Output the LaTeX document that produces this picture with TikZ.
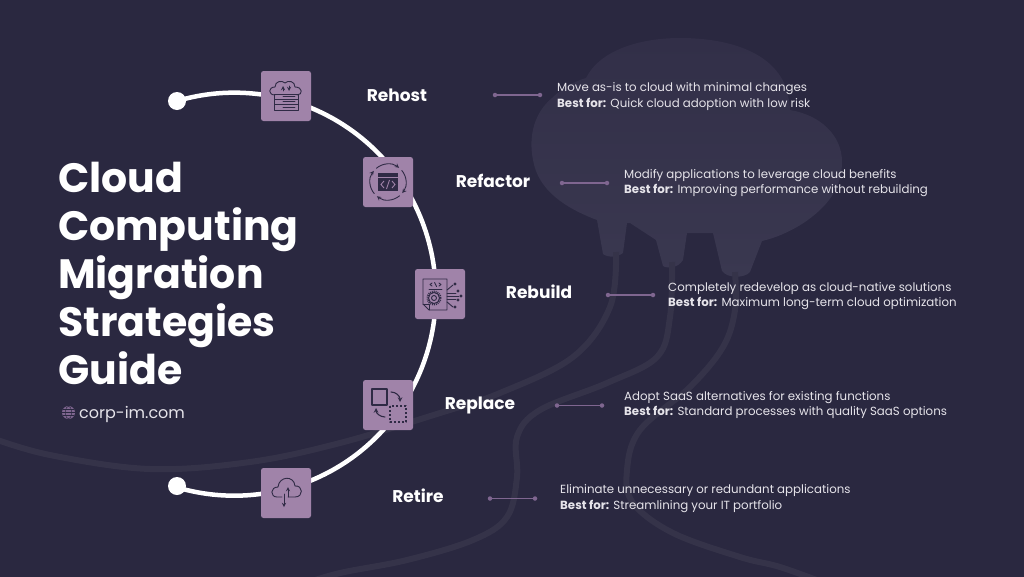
\documentclass[tikz,border=0pt]{standalone}
\usepackage{fontspec}
\setmainfont{Poppins}
\definecolor{bgdark}{HTML}{2A2840}
\definecolor{cloudtop}{HTML}{322F48}
\definecolor{cloudbg}{HTML}{3A3850}
\definecolor{wirecol}{HTML}{353349}
\definecolor{boxfill}{HTML}{A083A9}
\definecolor{iconink}{HTML}{2F2A45}
\definecolor{leadcol}{HTML}{7F6690}
\definecolor{desctext}{HTML}{E6E4EA}
\tikzset{
    iconbox/.style={fill=boxfill, rounded corners=2.5pt, minimum size=50pt, inner sep=0pt},
    iconline/.style={draw=iconink, line width=.9pt, line cap=round, line join=round},
    wire/.style={draw=wirecol, line width=6pt},
    tick/.style={circle, fill=leadcol, minimum size=4.5pt, inner sep=0pt},
    leader/.style={draw=leadcol, line width=1.4pt},
    stepname/.style={text=white, anchor=base, font=\fontsize{17}{19}\selectfont\bfseries},
    stepdesc/.style={text=desctext, anchor=west, align=left, inner sep=0pt, font=\fontsize{11.8}{15.2}\selectfont},
    titleline/.style={text=white, anchor=base west, inner sep=0pt, font=\fontsize{41}{43}\selectfont\bfseries},
}
\begin{document}
\begin{tikzpicture}[x=1pt, y=-1pt, >=stealth]
    \useasboundingbox (0,0) rectangle (1024,576);
    \fill[bgdark] (-3,-3) rectangle (1027,579);
    % cloud in the background
    \begin{scope}
        \clip (-3,-3) rectangle (1027,579);
        \shade[top color=cloudtop, bottom color=cloudbg] (597,220) .. controls (565,208) and (538,190) .. (533,160)
            .. controls (528,135) and (535,112) .. (552,98)
            .. controls (560,90) and (572,82) .. (586,78)
            .. controls (600,50) and (640,38) .. (680,38)
            .. controls (725,38) and (770,50) .. (785,85)
            .. controls (788,95) and (790,103) .. (790,110)
            .. controls (820,115) and (842,135) .. (842,162)
            .. controls (842,190) and (825,208) .. (805,222)
            .. controls (790,232) and (775,238) .. (762,241)
            -- (750,272) .. controls (745,278) and (728,279) .. (722,271)
            -- (713,233) -- (687,233) -- (683,260)
            .. controls (678,268) and (668,269) .. (663,266)
            -- (656,240) -- (630,223) -- (627,223) -- (623,253)
            .. controls (618,257) and (608,258) .. (603,254) -- cycle;
        \draw[wire] plot[smooth, tension=.6] coordinates {(616,252) (610,307) (573,357) (500,393) (440,413) (340,443) (250,462) (150,469) (50,455) (-8,438)};
        \draw[wire] plot[smooth, tension=.6] coordinates {(672,262) (670,317) (657,357) (607,383) (540,410) (517,437) (517,477) (507,517) (473,540) (407,560) (340,573) (300,585)};
        \draw[wire] plot[smooth, tension=.6] coordinates {(735,272) (735,310) (723,347) (690,387) (640,430) (627,470) (633,503) (673,533) (740,557) (780,567) (830,585)};
    \end{scope}
    % the main arc
    \node[circle, fill=white, minimum size=18pt, inner sep=0pt] (dotA) at (177,101) {};
    \node[circle, fill=white, minimum size=18pt, inner sep=0pt] (dotB) at (177,486) {};
    \draw[white, line width=4.5pt] (dotA.center) arc[start angle=106.5, end angle=-106.5, radius=201.5pt];
    % icon boxes
    \node[iconbox] (rh) at (286,96) {};
    \node[iconbox] (rf) at (388,182) {};
    \node[iconbox] (rb) at (440,294) {};
    \node[iconbox] (rp) at (388,405) {};
    \node[iconbox] (rt) at (286,493) {};
    % rehost icon
    \begin{scope}[shift={(rh.center)}]
        \draw[iconline] (-11,-1) .. controls (-18,-1) and (-18,-9) .. (-11,-9)
            .. controls (-11,-15) and (-4,-16) .. (-1,-13)
            .. controls (2,-16) and (9,-15) .. (9,-9)
            .. controls (17,-9) and (17,-1) .. (11,-1);
        \draw[iconline] (-12,-2) rectangle (12,3);
        \draw[iconline] (-12,3) rectangle (12,8.5);
        \draw[iconline] (-12,8.5) rectangle (12,14);
        \draw[iconline] (-3,.5) -- (9,.5);
        \draw[iconline] (-3,5.7) -- (9,5.7);
        \draw[iconline] (-3,11.2) -- (9,11.2);
        \draw[iconline, ->] (-3,-5) -- (-3,-10);
        \draw[iconline, ->] (3,-10) -- (3,-5);
    \end{scope}
    % refactor icon
    \begin{scope}[shift={(rf.center)}]
        \foreach \a in {0,90,180,270}
            \draw[iconline, ->] ({\a+130}:18pt) arc[start angle=\a+130, end angle=\a+52, radius=18pt];
        \fill[iconink] (-10,-9) rectangle (10,9);
        \draw[boxfill, line width=.7pt] (-10,-5) -- (10,-5);
        \draw[boxfill, line width=.9pt] (-4,-1) -- (-7,2.5) -- (-4,6);
        \draw[boxfill, line width=.9pt] (4,-1) -- (7,2.5) -- (4,6);
        \draw[boxfill, line width=.9pt] (1.5,-2) -- (-1.5,7);
    \end{scope}
    % rebuild icon
    \begin{scope}[shift={(rb.center)}]
        \draw[iconline] (-17,-15) -- (7,-15) -- (7,16) -- (-11,16) -- (-17,10) -- cycle;
        \draw[iconline] (-17,10) -- (-11,10) -- (-11,16);
        \draw[iconline] (-11,-5) -- (2,-5);
        \draw[iconline] (-8,-11) -- (-10,-9.5) -- (-8,-8);
        \draw[iconline] (-1,-11) -- (1,-9.5) -- (-1,-8);
        \draw[iconline] (-3.5,-7.5) -- (-5.5,-11.5);
        \draw[iconline, densely dotted, line width=2pt, line cap=butt] (-6,4) circle[radius=6.5pt];
        \draw[iconline] (-6,4) circle[radius=5.5pt];
        \draw[iconline] (-6,4) circle[radius=2.5pt];
        \draw[iconline] (7,-4) -- (13,-9);
        \draw[iconline] (7,-1) -- (16,-1);
        \draw[iconline] (7,2) -- (19,2);
        \draw[iconline] (7,5) -- (16,5);
        \draw[iconline] (7,8) -- (13,13);
        \foreach \p in {(15,-10),(18,-3),(21,2),(18,6),(15,13)}
            \fill[iconink] \p circle[radius=1.7pt];
    \end{scope}
    % replace icon
    \begin{scope}[shift={(rp.center)}]
        \draw[iconline, line width=1.1pt] (-16,-16) rectangle (-1,0);
        \draw[iconline, line width=1.1pt, line cap=butt, dash pattern=on 2pt off 2pt] (2,1) rectangle (18,17);
        \draw[iconline, line width=1.1pt, ->] (3,-13) .. controls (8,-13) and (12,-9) .. (12,-3);
        \draw[iconline, line width=1.1pt, ->] (-3,12) .. controls (-8,12) and (-12,8) .. (-12,3);
    \end{scope}
    % retire icon
    \begin{scope}[shift={(rt.center)}]
        \draw[iconline] (-4,4) -- (-9,4) .. controls (-16,4) and (-16,-6) .. (-8,-6)
            .. controls (-7,-17) and (8,-18) .. (9,-7)
            .. controls (17,-8) and (18,4) .. (9,4) -- (2,4);
        \draw[iconline, ->] (2,4) -- (2,-6);
        \draw[iconline, ->] (-2,1) -- (-2,14);
    \end{scope}
    % step names
    \node[stepname] (rhName) at (397,101.5) {Rehost};
    \node[stepname] (rfName) at (493,187.5) {Refactor};
    \node[stepname] (rbName) at (539,298.5) {Rebuild};
    \node[stepname] (rpName) at (480,409.5) {Replace};
    \node[stepname] (rtName) at (418,502.5) {Retire};
    % leaders
    \node[tick] (rhA) at (495,95) {};
    \node[tick] (rhB) at (540,95) {};
    \node[tick] (rfA) at (562,183) {};
    \node[tick] (rfB) at (607,183) {};
    \node[tick] (rbA) at (608,295) {};
    \node[tick] (rbB) at (653,295) {};
    \node[tick] (rpA) at (557,405.5) {};
    \node[tick] (rpB) at (602,405.5) {};
    \node[tick] (rtA) at (490,498.5) {};
    \node[tick] (rtB) at (535,498.5) {};
    \draw[leader] (rhA) -- (rhB);
    \draw[leader] (rfA) -- (rfB);
    \draw[leader] (rbA) -- (rbB);
    \draw[leader] (rpA) -- (rpB);
    \draw[leader] (rtA) -- (rtB);
    % descriptions
    \node[stepdesc] (rhDesc) at (557,96.5) {Move as-is to cloud with minimal changes\\\textbf{Best for:} Quick cloud adoption with low risk};
    \node[stepdesc] (rfDesc) at (624,183) {Modify applications to leverage cloud benefits\\\textbf{Best for:} Improving performance without rebuilding};
    \node[stepdesc] (rbDesc) at (668,296) {Completely redevelop as cloud-native solutions\\\textbf{Best for:} Maximum long-term cloud optimization};
    \node[stepdesc] (rpDesc) at (624,405) {Adopt SaaS alternatives for existing functions\\\textbf{Best for:} Standard processes with quality SaaS options};
    \node[stepdesc] (rtDesc) at (560,498.5) {Eliminate unnecessary or redundant applications\\\textbf{Best for:} Streamlining your IT portfolio};
    % title
    \node[titleline] (tA) at (58,192) {Cloud};
    \node[titleline] (tB) at (58,240) {Computing};
    \node[titleline] (tC) at (58,288) {Migration};
    \node[titleline] (tD) at (58,336) {Strategies};
    \node[titleline] (tE) at (58,384) {Guide};
    % globe and site name
    \node[circle, fill=leadcol, minimum size=13pt, inner sep=0pt] (globe) at (68.5,412.5) {};
    \draw[bgdark, line width=.5pt] (globe.center) ellipse[x radius=3pt, y radius=6.5pt];
    \draw[bgdark, line width=.5pt] (globe.west) -- (globe.east);
    \draw[bgdark, line width=.5pt] (62.8,409.5) -- (74.2,409.5);
    \draw[bgdark, line width=.5pt] (62.8,415.5) -- (74.2,415.5);
    \node[text=desctext, anchor=base west, inner sep=0pt, font=\fontsize{16}{18}\selectfont] (site) at (79,418) {corp-im.com};
\end{tikzpicture}
\end{document}
